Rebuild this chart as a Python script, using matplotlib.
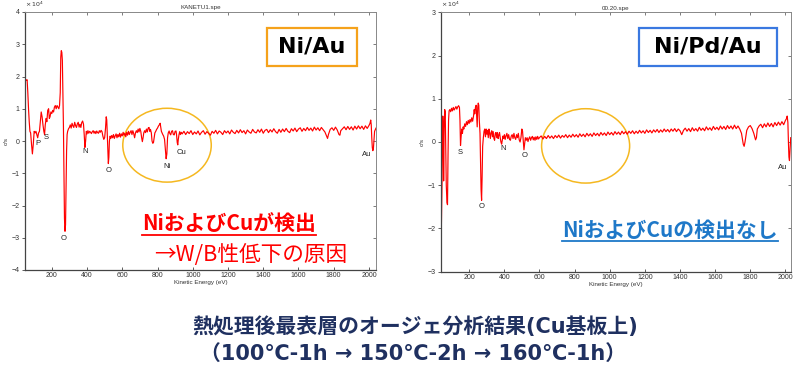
import matplotlib
matplotlib.use("Agg")
import matplotlib.pyplot as plt
from matplotlib.patches import Rectangle, Ellipse
from matplotlib.lines import Line2D

plt.rcParams['font.family'] = ['Liberation Sans', 'DejaVu Sans']
JP = ['Noto Sans CJK JP', 'DejaVu Sans']
JPW = ['DejaVu Sans', 'Noto Sans CJK JP']

# ---------------- data (units of 1e4 c/s) ----------------
left_energy = [45, 50, 55, 60, 64, 68, 72, 76, 80, 85, 90, 95, 100, 105, 110, 115, 120, 125, 130, 135,
               140, 145, 150, 155, 159, 163, 168, 172, 177, 182, 186, 190, 195, 200, 205, 210, 215, 220,
               225, 230, 235, 240, 244, 248, 251, 254, 257, 260, 263, 266, 269, 272, 275, 278, 281, 284,
               287, 290, 295, 300, 305, 310, 315, 320, 325, 330, 335, 340, 345, 350, 355, 360, 365, 370,
               375, 380, 384, 388, 392, 396, 400, 405, 410, 415, 420, 425, 430, 435, 440, 445, 450, 455,
               460, 465, 470, 475, 480, 485, 490, 495, 500, 505, 509, 512, 515, 518, 521, 524, 527, 531,
               535, 540, 545, 550, 555, 560, 565, 570, 575, 580, 585, 590, 595, 600, 605, 610, 615, 620,
               625, 630, 635, 640, 645, 650, 655, 660, 665, 670, 675, 680, 685, 690, 695, 700, 705, 710,
               714, 718, 722, 727, 732, 737, 742, 747, 752, 756, 760, 765, 769, 773, 777, 781, 785, 790,
               795, 800, 805, 810, 815, 818, 822, 826, 830, 835, 840, 845, 849, 853, 857, 861, 866, 870,
               875, 880, 885, 890, 895, 900, 905, 908, 912, 915, 918, 922, 926, 930, 935,
               940, 950, 960, 970, 980, 990, 1000, 1010, 1020, 1030, 1040, 1050, 1060, 1070, 1080, 1090,
               1100, 1110, 1120, 1130, 1140, 1150, 1160, 1170, 1180, 1190, 1200, 1210, 1220, 1230, 1240,
               1250, 1260, 1270, 1280, 1290, 1300, 1310, 1320, 1330, 1340, 1350, 1360, 1370, 1380, 1390,
               1400, 1410, 1420, 1430, 1440, 1450, 1460, 1470, 1480, 1490, 1500, 1510, 1520, 1530, 1540,
               1550, 1560, 1570, 1580, 1590, 1600, 1610, 1620, 1630, 1640, 1650, 1660, 1670, 1680, 1690,
               1700, 1710, 1720, 1730, 1740, 1750, 1760, 1765, 1770, 1780, 1790, 1800, 1810, 1820, 1830,
               1835, 1840, 1850, 1860, 1870, 1880, 1890, 1900, 1910, 1920, 1930, 1940, 1950, 1960, 1970,
               1980, 1990, 2000, 2006, 2010, 2013, 2016, 2019, 2022, 2025, 2028, 2032, 2036, 2040]
left_counts = [1.85, 1.92, 1.88, 1.9, 1.5, 1.0, 0.6, 0.3, 0.25, -0.1, -0.4, -0.1, 0.3, 0.25, 0.3, 0.2, 0.1, 0.25, 0.3, 0.6,
               0.9, 0.75, 0.5, 0.3, 0.2, 0.5, 0.7, 0.6, 0.95, 1.0, 0.7, 0.75, 0.9, 0.85, 0.95, 0.9, 1.05, 1.1,
               1.0, 1.1, 1.05, 1.0, 1.1, 1.5, 2.6, 2.8, 2.75, 2.5, 1.5, 0.5, -1.0, -2.4, -2.8, -2.6, -1.5, -0.3,
               0.2, 0.3, 0.38, 0.42, 0.5, 0.4, 0.55, 0.47, 0.42, 0.58, 0.48, 0.42, 0.53, 0.58, 0.43, 0.52, 0.42, 0.57,
               0.62, 0.52, 0.2, -0.2, 0.0, 0.3, 0.22, 0.32, 0.24, 0.3, 0.27, 0.23, 0.29, 0.32, 0.24, 0.3, 0.23, 0.31,
               0.26, 0.24, 0.32, 0.27, 0.33, 0.29, 0.15, 0.05, 0.1, 0.4, 0.75, 0.65, 0.2, -0.3, -0.7, -0.5, 0.0, 0.15,
               0.08, 0.17, 0.1, 0.2, 0.08, 0.16, 0.22, 0.1, 0.2, 0.13, 0.24, 0.12, 0.22, 0.16, 0.27, 0.18, 0.24, 0.13,
               0.27, 0.18, 0.3, 0.2, 0.27, 0.32, 0.2, 0.32, 0.23, 0.1, 0.25, 0.32, 0.26, 0.37, 0.28, 0.39, 0.3, 0.1,
               -0.02, 0.1, 0.25, 0.32, 0.26, 0.37, 0.28, 0.4, 0.42, 0.3, 0.36, 0.25, 0.0, -0.07, -0.05, 0.1, 0.25, 0.3,
               0.36, 0.4, 0.46, 0.5, 0.55, 0.45, 0.3, 0.25, 0.2, 0.15, 0.05, -0.3, -0.55, -0.4, 0.1, 0.25, 0.31, 0.23,
               0.19, 0.3, 0.32, 0.2, 0.19, 0.3, 0.31, 0.2, -0.05, -0.12, 0.05, 0.2, 0.29, 0.2, 0.27,
               0.22, 0.3, 0.2, 0.29, 0.23, 0.32, 0.2, 0.28, 0.22, 0.31, 0.19, 0.27, 0.32, 0.21, 0.29, 0.24,
               0.18, 0.3, 0.24, 0.33, 0.22, 0.31, 0.27, 0.2, 0.32, 0.25, 0.31, 0.22, 0.34, 0.27, 0.23,
               0.33, 0.25, 0.35, 0.26, 0.32, 0.22, 0.34, 0.28, 0.24, 0.36, 0.28, 0.25, 0.35, 0.27, 0.37,
               0.24, 0.33, 0.36, 0.26, 0.35, 0.28, 0.38, 0.29, 0.24, 0.36, 0.27, 0.37, 0.29, 0.39, 0.3,
               0.26, 0.38, 0.31, 0.4, 0.29, 0.37, 0.41, 0.3, 0.39, 0.32, 0.42, 0.33, 0.4, 0.31, 0.43,
               0.34, 0.41, 0.32, 0.42, 0.35, 0.28, 0.15, 0.08, 0.2, 0.36, 0.41, 0.33, 0.43, 0.34, 0.2,
               0.18, 0.32, 0.38, 0.44, 0.35, 0.45, 0.36, 0.44, 0.34, 0.46, 0.37, 0.47, 0.38, 0.46, 0.36,
               0.47, 0.39, 0.48, 0.55, 0.65, 0.5, 0.1, -0.2, -0.3, -0.25, 0.0, 0.3, 0.35, 0.4]

right_energy = [42, 44, 46, 48, 50, 53, 55, 58, 61, 64, 67, 70, 74, 77, 80, 83, 86, 90, 95, 100,
                105, 110, 115, 120, 125, 130, 135, 140, 145, 148, 151, 154, 158, 162, 166, 170, 175, 180,
                185, 190, 195, 200, 205, 210, 215, 220, 225, 229, 232, 236, 240, 243, 246, 249, 252, 255,
                258, 262, 265, 268, 271, 274, 277, 281, 285, 289, 293, 297, 301, 305, 309, 313, 317, 321,
                325, 329, 333, 337, 341, 345, 349, 353, 357, 361, 365, 369, 373, 377, 381, 385, 389, 393,
                397, 401, 405, 410, 415, 420, 425, 430, 435, 440, 445, 450, 455, 460, 465, 470, 475, 480,
                485, 490, 495, 500, 504, 508, 512, 516, 520, 525, 530, 535, 540, 545, 550, 555, 560, 565,
                570, 575, 580, 585, 590, 595, 600, 610, 620, 630, 640, 650, 660, 670, 680, 690, 700, 710,
                720, 730, 740, 750, 760, 770, 780, 790, 800, 810, 820, 830, 840, 850, 860, 870, 880, 890,
                900, 910, 920, 930, 940, 950, 960, 970, 980, 990, 1000, 1010, 1020, 1030, 1040, 1050, 1060,
                1070, 1080, 1090, 1100, 1110, 1120, 1130, 1140, 1150, 1160, 1170, 1180, 1190, 1200, 1210,
                1220, 1230, 1240, 1250, 1260, 1270, 1280, 1290, 1300, 1310, 1320, 1330, 1340, 1350, 1360,
                1370, 1380, 1390, 1400, 1410, 1420, 1430, 1440, 1450, 1460, 1470, 1480, 1490, 1500, 1510,
                1520, 1530, 1540, 1550, 1560, 1570, 1580, 1590, 1600, 1610, 1620, 1630, 1640, 1650, 1660,
                1670, 1680, 1690, 1700, 1710, 1720, 1730, 1740, 1750, 1760, 1765, 1770, 1780, 1790, 1800,
                1810, 1820, 1830, 1835, 1840, 1850, 1860, 1870, 1880, 1890, 1900, 1910, 1920, 1930, 1940,
                1950, 1960, 1970, 1980, 1990, 2000, 2006, 2010, 2014, 2017, 2020, 2023, 2026, 2030]
right_counts = [-2.0, -1.5, -0.9, 0.0, 0.6, 0.2, -0.9, 0.3, 0.75, 0.7, -0.2, -1.0, -1.4, -1.45, -0.3, 0.5, 0.72, 0.75, 0.7, 0.78,
                0.72, 0.8, 0.74, 0.78, 0.82, 0.76, 0.81, 0.84, 0.8, 0.5, -0.08, 0.1, 0.3, 0.2, 0.35, 0.3, 0.42, 0.36,
                0.47, 0.4, 0.5, 0.43, 0.52, 0.46, 0.56, 0.48, 0.6, 0.75, 0.65, 0.8, 0.85, 0.6, 0.35, 0.8, 0.9, 0.85,
                0.5, 0.2, -0.5, -1.1, -1.35, -0.8, -0.1, 0.1, 0.25, 0.3, 0.12, 0.3, 0.18, 0.27, 0.1, 0.3, 0.2, 0.08,
                0.22, 0.26, 0.12, 0.24, 0.08, 0.04, 0.2, 0.22, 0.1, 0.22, 0.08, 0.16, 0.22, 0.1, 0.0, -0.05, 0.05, 0.14,
                0.08, 0.17, 0.06, 0.14, 0.2, 0.08, 0.17, 0.06, 0.04, 0.14, 0.17, 0.08, 0.2, 0.1, 0.06, 0.17, 0.1, 0.2,
                0.05, 0.0, 0.1, 0.3, 0.25, 0.05, -0.18, -0.05, 0.1, 0.04, 0.1, 0.01, 0.08, 0.12, 0.04, 0.1, 0.13, 0.05,
                0.11, 0.04, 0.12, 0.06, 0.13, 0.07, 0.1, 0.14, 0.07, 0.13, 0.08, 0.15, 0.09, 0.14, 0.08, 0.15, 0.1, 0.16,
                0.09, 0.15, 0.11, 0.17, 0.1, 0.16, 0.11, 0.18, 0.12, 0.17, 0.11, 0.19, 0.13, 0.18, 0.12, 0.2, 0.14, 0.19,
                0.13, 0.21, 0.15, 0.2, 0.14, 0.22, 0.16, 0.21, 0.15, 0.23, 0.17, 0.22, 0.16, 0.24, 0.18, 0.23, 0.17,
                0.25, 0.19, 0.24, 0.18, 0.25, 0.2, 0.26, 0.19, 0.25, 0.2, 0.27, 0.21, 0.26, 0.2, 0.28,
                0.22, 0.27, 0.21, 0.28, 0.23, 0.29, 0.22, 0.28, 0.23, 0.3, 0.24, 0.29, 0.23, 0.3, 0.25,
                0.31, 0.24, 0.3, 0.26, 0.17, 0.27, 0.32, 0.25, 0.31, 0.24, 0.33, 0.26, 0.31, 0.25, 0.34,
                0.27, 0.32, 0.26, 0.35, 0.28, 0.33, 0.27, 0.36, 0.29, 0.34, 0.28, 0.37, 0.3, 0.36, 0.29,
                0.38, 0.31, 0.37, 0.3, 0.39, 0.31, 0.37, 0.3, 0.2, -0.05, -0.1, 0.0, 0.27, 0.35, 0.38,
                0.31, 0.2, 0.05, 0.1, 0.3, 0.37, 0.41, 0.33, 0.42, 0.35, 0.44, 0.36, 0.43, 0.35, 0.45,
                0.38, 0.46, 0.39, 0.47, 0.4, 0.5, 0.54, 0.6, 0.45, 0.0, -0.35, -0.43, -0.2, 0.1]

left_peaks = ['P', 'S', 'O', 'N', 'O', 'Ni', 'Cu', 'Au']
left_peak_pos = [(124, -0.07), (168, 0.1), (270, -3.01), (389, -0.34), (521, -0.92), (852, -0.78), (937, -0.37), (1986, -0.43)]
right_peaks = ['S', 'O', 'N', 'O', 'Au']
right_peak_pos = [(149, -0.24), (272, -1.5), (395, -0.15), (518, -0.32), (1985, -0.59)]

x_ticks = [200, 400, 600, 800, 1000, 1200, 1400, 1600, 1800, 2000]

W, H = 800, 380
fig = plt.figure(figsize=(8, 3.8), dpi=100)
fig.patch.set_facecolor('white')


def fx(x):
    return x / W


def fy(y):
    return 1 - y / H


def style_axes(ax, yticks):
    ax.set_xticks(x_ticks)
    ax.set_yticks(yticks)
    ax.tick_params(axis='both', labelsize=5, labelcolor='#333333', color='#444444',
                   length=2.5, width=0.6, pad=1.5)
    ax.tick_params(axis='x', direction='in')
    ax.tick_params(axis='y', direction='out')
    for s in ['left', 'bottom']:
        ax.spines[s].set_color('#444444')
        ax.spines[s].set_linewidth(0.9)
    for s in ['right', 'top']:
        ax.spines[s].set_color('#888888')
        ax.spines[s].set_linewidth(0.7)
    sx = ax.secondary_xaxis('top')
    sx.set_xticks(x_ticks)
    sx.tick_params(direction='in', length=2.5, width=0.6, color='#666666', labeltop=False)
    sx.spines['top'].set_visible(False)
    sy = ax.secondary_yaxis('right')
    sy.set_yticks(yticks)
    sy.tick_params(direction='in', length=2.5, width=0.6, color='#666666', labelright=False)
    sy.spines['right'].set_visible(False)
    ax.set_xlabel('Kinetic Energy (eV)', fontsize=4.5, color='#333333', labelpad=1)
    ax.set_ylabel('c/s', fontsize=4.5, color='#333333', labelpad=2)
    ax.text(0.0, 1.012, r'$\times\,10^4$', transform=ax.transAxes, fontsize=4.5,
            color='#333333', ha='left', va='bottom')


# ---------------- left panel ----------------
axL = fig.add_axes([fx(25), fy(270), fx(376 - 25), (270 - 12) / H])
axL.plot(left_energy, left_counts, color='#FF0000', lw=0.85)
axL.set_xlim(48, 2040)
axL.set_ylim(-4, 4)
style_axes(axL, [-4, -3, -2, -1, 0, 1, 2, 3, 4])
axL.set_title('KANETU1.spe', fontsize=4.5, color='#333333', pad=2)
for lab, (e, v) in zip(left_peaks, left_peak_pos):
    axL.text(e, v, lab, fontsize=5.5, color='#222222', ha='center', va='center')
axL.add_patch(Ellipse((854, -0.13), 502, 2.29, fill=False, edgecolor='#F5B820', lw=1.1))

# ---------------- right panel ----------------
axR = fig.add_axes([fx(441), fy(271.7), fx(790.7 - 441), (271.7 - 12.3) / H])
axR.plot(right_energy, right_counts, color='#FF0000', lw=0.85)
axR.set_xlim(40, 2030)
axR.set_ylim(-3, 3)
style_axes(axR, [-3, -2, -1, 0, 1, 2, 3])
axR.set_title('00.20.spe', fontsize=4.5, color='#333333', pad=2)
for lab, (e, v) in zip(right_peaks, right_peak_pos):
    axR.text(e, v, lab, fontsize=5.5, color='#222222', ha='center', va='center')
axR.add_patch(Ellipse((863, -0.09), 501, 1.72, fill=False, edgecolor='#F5B820', lw=1.1))

# ---------------- boxes ----------------
fig.patches.append(Rectangle((fx(267), fy(66)), fx(90), 38 / H, transform=fig.transFigure,
                             facecolor='white', edgecolor='#F5A21B', lw=1.6, zorder=5))
fig.text(fx(312), fy(47), 'Ni/Au', fontsize=16, fontweight='bold', family=JPW,
         ha='center', va='center', color='black', zorder=6)
fig.patches.append(Rectangle((fx(639), fy(66)), fx(138), 38 / H, transform=fig.transFigure,
                             facecolor='white', edgecolor='#3A78E0', lw=1.6, zorder=5))
fig.text(fx(708), fy(47), 'Ni/Pd/Au', fontsize=16, fontweight='bold', family=JPW,
         ha='center', va='center', color='black', zorder=6)

# ---------------- coloured notes ----------------
t1 = fig.text(fx(142), fy(224), 'NiおよびCuが検出', fontsize=15, fontweight='bold', family=JP,
              ha='left', va='center', color='#FF0000')
fig.text(fx(154), fy(255), '→W/B性低下の原因', fontsize=15.6, family=JP,
         ha='left', va='center', color='#FF0000')
t2 = fig.text(fx(562), fy(230), 'NiおよびCuの検出なし', fontsize=15, fontweight='bold', family=JP,
              ha='left', va='center', color='#1E78C8')

fig.text(fx(415), fy(327), '熱処理後最表層のオージェ分析結果(Cu基板上)', fontsize=15, fontweight='bold',
         family=JPW, ha='center', va='center', color='#1F3060')
fig.text(fx(413), fy(354), '（100℃-1h → 150℃-2h → 160℃-1h）', fontsize=15, fontweight='bold',
         family=JPW, ha='center', va='center', color='#1F3060')

# underlines computed from rendered text extents
renderer = fig.canvas.get_renderer()
for t, yline, col in [(t1, 234.5, '#FF0000'), (t2, 240.5, '#1E78C8')]:
    bb = t.get_window_extent(renderer)
    x0, x1 = bb.x0 / (fig.dpi * fig.get_figwidth()), bb.x1 / (fig.dpi * fig.get_figwidth())
    fig.lines.append(Line2D([x0, x1], [fy(yline), fy(yline)], transform=fig.transFigure,
                            color=col, lw=1.3))

fig.savefig('out.png', dpi=100, facecolor='white')
